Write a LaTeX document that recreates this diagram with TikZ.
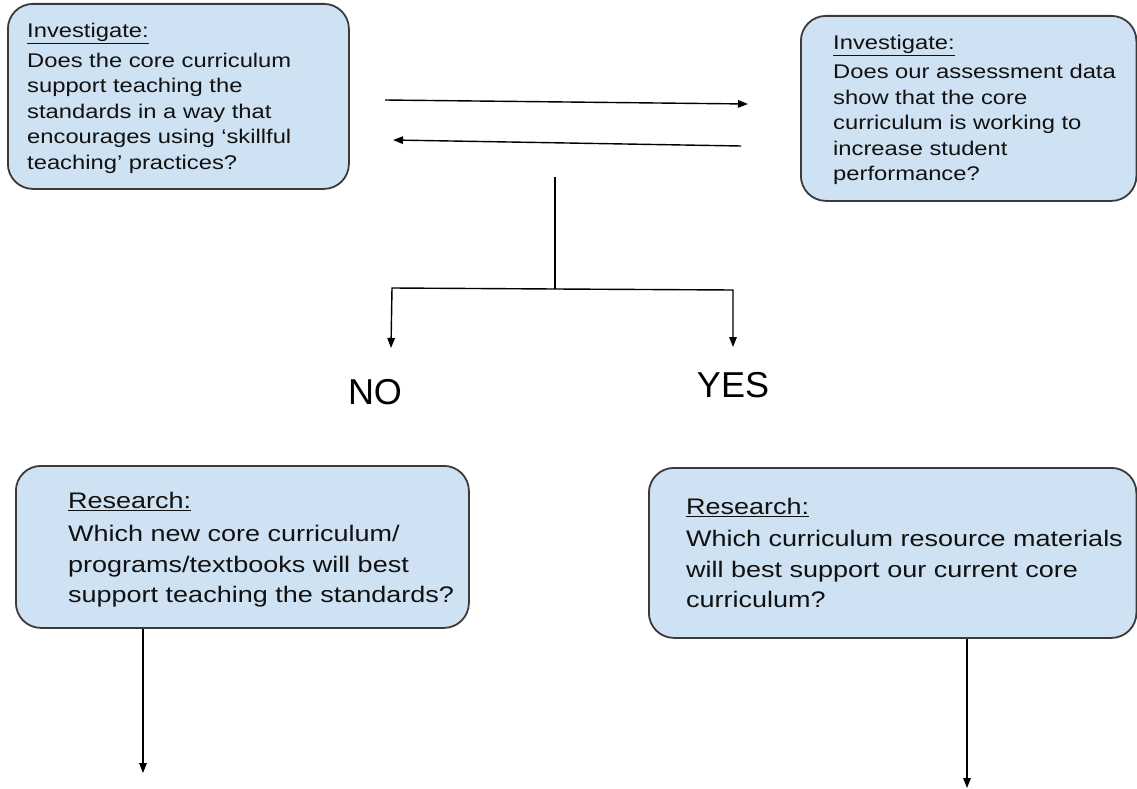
\documentclass[tikz,border=0pt]{standalone}
\usepackage{fontspec}
\setmainfont{Liberation Sans}
\newfontfamily\boxfont[FakeStretch=1.2]{Liberation Sans}
\usetikzlibrary{arrows.meta}
\definecolor{boxfill}{HTML}{CFE2F3}
\definecolor{boxline}{HTML}{3A3A3A}
\definecolor{txt}{HTML}{111111}
\tikzset{
  qbox/.style={draw=boxline, line width=1.8pt, fill=boxfill, rounded corners=25pt, inner sep=0pt, anchor=north west},
  smalltxt/.style={anchor=north west, inner sep=0pt, align=left, text=txt, font=\boxfont\fontsize{19.8pt}{25.5pt}\selectfont},
  bigtxt/.style={anchor=north west, inner sep=0pt, align=left, text=txt, font=\boxfont\fontsize{22.5pt}{30.3pt}\selectfont},
  ans/.style={inner sep=0pt, text=black, font=\fontsize{36pt}{40pt}\selectfont},
  conn/.style={line width=1.4pt, draw=black},
  arr/.style={conn, -{Triangle[length=10pt,width=7.5pt]}}
}
\begin{document}
\begin{tikzpicture}[x=1pt,y=-1pt]
\useasboundingbox (0,0) rectangle (1137,789);
% boxes
\node[qbox, minimum width=341pt, minimum height=185pt] (inv1) at (7,3) {};
\node[qbox, minimum width=335.5pt, minimum height=185pt] (inv2) at (800,15) {};
\node[qbox, minimum width=453pt, minimum height=162pt] (res1) at (15,465) {};
\node[qbox, minimum width=487.5pt, minimum height=170pt] (res2) at (648,467) {};
% texts
\node[smalltxt] (t1) at (27,22.8) {\underline{Investigate:}\\[4.5pt]Does the core curriculum\\support teaching the\\standards in a way that\\encourages using ‘skillful\\teaching’ practices?};
\node[smalltxt] (t2) at (833,34.8) {\underline{Investigate:}\\[4pt]Does our assessment data\\show that the core\\curriculum is working to\\increase student\\performance?};
\node[bigtxt] (t3) at (68,492) {\underline{Research:}\\[3pt]Which new core curriculum/\\programs/textbooks will best\\support teaching the standards?};
\node[bigtxt] (t4) at (686,498) {\underline{Research:}\\[2pt]Which curriculum resource materials\\will best support our current core\\curriculum?};
% answers
\node[ans] (no) at (375,392) {NO};
\node[ans] (yes) at (733,385) {YES};
% coordinates
\coordinate (a1s) at (385,100);
\coordinate (a1e) at (748,104);
\coordinate (a2s) at (741,146);
\coordinate (a2e) at (393,140);
\coordinate (br0) at (555,177);
\coordinate (brJ) at (555,289);
\coordinate (brL) at (392,288);
\coordinate (brR) at (733,290);
\coordinate (noTip) at (391,348);
\coordinate (yesTip) at (733,347);
\coordinate (d1) at (143,773);
\coordinate (d2) at (967,788);
% connectors
\draw[arr] (a1s) -- (a1e);
\draw[arr] (a2s) -- (a2e);
\draw[conn] (br0) -- (brJ);
\draw[arr] (brJ) -- (brL) -- (noTip);
\draw[arr] (brJ) -- (brR) -- (yesTip);
\draw[arr] (res1.south -| d1) -- (d1);
\draw[arr] (res2.south -| d2) -- (d2);
\end{tikzpicture}
\end{document}
